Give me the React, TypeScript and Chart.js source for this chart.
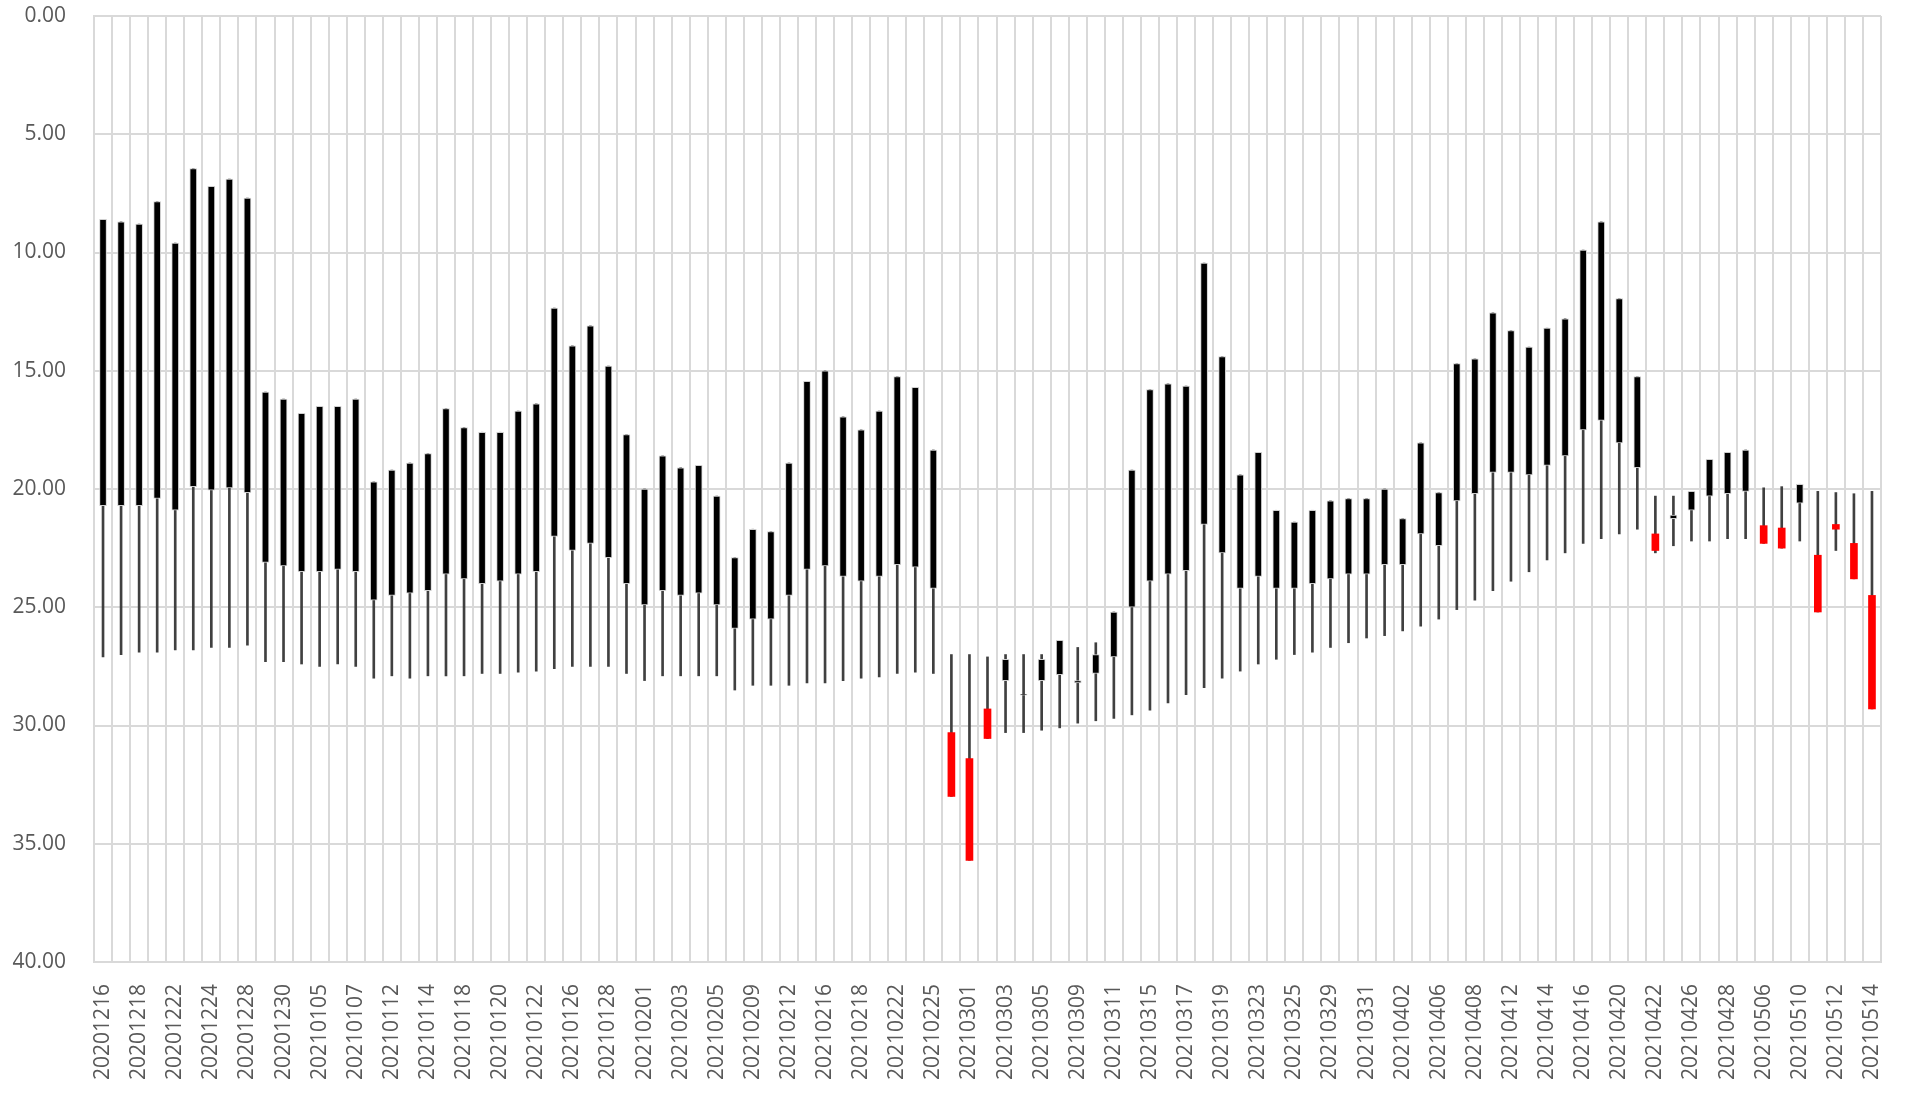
import React, { useEffect, useRef } from "react";
import { Chart, registerables } from "chart.js";
Chart.register(...registerables);

const dates = [
  "20201216","20201217","20201218","20201221","20201222","20201223","20201224","20201225","20201228","20201229",
  "20201230","20201231","20210105","20210106","20210107","20210108","20210112","20210113","20210114","20210115",
  "20210118","20210119","20210120","20210121","20210122","20210125","20210126","20210127","20210128","20210129",
  "20210201","20210202","20210203","20210204","20210205","20210208","20210209","20210210","20210212","20210215",
  "20210216","20210217","20210218","20210219","20210222","20210223","20210225","20210226","20210301","20210302",
  "20210303","20210304","20210305","20210308","20210309","20210310","20210311","20210312","20210315","20210316",
  "20210317","20210318","20210319","20210322","20210323","20210324","20210325","20210326","20210329","20210330",
  "20210331","20210401","20210402","20210405","20210406","20210407","20210408","20210409","20210412","20210413",
  "20210414","20210415","20210416","20210419","20210420","20210421","20210422","20210423","20210426","20210427",
  "20210428","20210429","20210506","20210507","20210510","20210511","20210512","20210513","20210514"
];

const openV = [
  20.7, 20.7, 20.7, 20.4, 20.9, 19.9, 20.05, 19.95, 20.15, 23.1,
  23.25, 23.5, 23.5, 23.4, 23.5, 24.7, 24.5, 24.4, 24.3, 23.6,
  23.8, 24.0, 23.9, 23.6, 23.5, 22.0, 22.6, 22.3, 22.9, 24.0,
  24.9, 24.3, 24.5, 24.4, 24.9, 25.9, 25.5, 25.5, 24.5, 23.4,
  23.25, 23.7, 23.9, 23.7, 23.2, 23.3, 24.2, 30.3, 31.4, 29.3,
  28.1, 28.72, 28.1, 27.85, 28.2, 27.8, 27.1, 25.0, 23.9, 23.6,
  23.45, 21.5, 22.7, 24.2, 23.7, 24.2, 24.2, 24.0, 23.8, 23.6,
  23.6, 23.2, 23.2, 21.9, 22.4, 20.5, 20.2, 19.3, 19.3, 19.4,
  19.0, 18.6, 17.5, 17.1, 18.05, 19.1, 21.9, 21.25, 20.9, 20.3,
  20.2, 20.1, 21.55, 21.65, 20.6, 22.8, 21.5, 22.3, 24.5
];

const closeV = [
  8.6, 8.7, 8.8, 7.85, 9.6, 6.45, 7.2, 6.9, 7.7, 15.9,
  16.2, 16.8, 16.5, 16.5, 16.2, 19.7, 19.2, 18.9, 18.5, 16.6,
  17.4, 17.6, 17.6, 16.7, 16.4, 12.35, 13.95, 13.1, 14.8, 17.7,
  20.0, 18.6, 19.1, 19.0, 20.3, 22.9, 21.7, 21.8, 18.9, 15.45,
  15.0, 16.95, 17.5, 16.7, 15.25, 15.7, 18.35, 33.0, 35.7, 30.55,
  27.2, 28.68, 27.2, 26.4, 28.1, 27.0, 25.2, 19.2, 15.8, 15.55,
  15.65, 10.45, 14.4, 19.4, 18.45, 20.9, 21.4, 20.9, 20.5, 20.4,
  20.4, 20.0, 21.25, 18.05, 20.15, 14.7, 14.5, 12.55, 13.3, 14.0,
  13.2, 12.8, 9.9, 8.7, 11.95, 15.25, 22.6, 21.1, 20.1, 18.75,
  18.45, 18.35, 22.3, 22.5, 19.8, 25.2, 21.7, 23.8, 29.3
];

const lowV = [
  8.6, 8.7, 8.8, 7.85, 9.6, 6.45, 7.2, 6.9, 7.7, 15.9,
  16.2, 16.8, 16.5, 16.5, 16.2, 19.7, 19.2, 18.9, 18.5, 16.6,
  17.4, 17.6, 17.6, 16.7, 16.4, 12.35, 13.95, 13.1, 14.8, 17.7,
  20.0, 18.6, 19.1, 19.0, 20.3, 22.9, 21.7, 21.8, 18.9, 15.45,
  15.0, 16.95, 17.5, 16.7, 15.25, 15.7, 18.35, 27.0, 27.0, 27.1,
  27.0, 27.0, 27.0, 26.4, 26.7, 26.5, 25.2, 19.2, 15.8, 15.55,
  15.65, 10.45, 14.4, 19.4, 18.45, 20.9, 21.4, 20.9, 20.5, 20.4,
  20.4, 20.0, 21.25, 18.05, 20.15, 14.7, 14.5, 12.55, 13.3, 14.0,
  13.2, 12.8, 9.9, 8.7, 11.95, 15.25, 20.3, 20.3, 20.1, 18.75,
  18.45, 18.35, 19.95, 19.9, 19.8, 20.1, 20.15, 20.2, 20.1
];

const highV = [
  27.1, 27.0, 26.9, 26.9, 26.8, 26.8, 26.7, 26.7, 26.6, 27.3,
  27.3, 27.4, 27.5, 27.4, 27.5, 28.0, 27.9, 28.0, 27.9, 27.9,
  27.9, 27.8, 27.8, 27.75, 27.7, 27.6, 27.5, 27.5, 27.5, 27.8,
  28.1, 27.9, 27.9, 27.9, 27.9, 28.5, 28.3, 28.3, 28.3, 28.2,
  28.2, 28.1, 28.0, 27.95, 27.8, 27.75, 27.8, 33.0, 35.7, 30.55,
  30.3, 30.3, 30.2, 30.1, 29.9, 29.8, 29.7, 29.55, 29.35, 29.05,
  28.7, 28.4, 28.0, 27.7, 27.4, 27.2, 27.0, 26.9, 26.7, 26.5,
  26.3, 26.2, 26.0, 25.8, 25.5, 25.1, 24.7, 24.3, 23.9, 23.5,
  23.0, 22.7, 22.3, 22.1, 21.9, 21.7, 22.7, 22.4, 22.2, 22.2,
  22.1, 22.1, 22.3, 22.5, 22.2, 25.2, 22.6, 23.8, 29.3
];

const yTicks = [0, 5, 10, 15, 20, 25, 30, 35, 40];

export default function App() {
  const ref = useRef<HTMLCanvasElement>(null);
  useEffect(() => {
    document.body.style.margin = "0";
    const isRed = closeV.map((c, i) => c > openV[i]);
    const gridColor = "#d9d9d9";
    const font = { family: "'Open Sans'", size: 21 };
    const chart = new Chart(ref.current!, {
      type: "bar",
      data: {
        labels: dates,
        datasets: [
          {
            label: "bodyBlack",
            data: dates.map((_, i) => (isRed[i] ? null : [openV[i], closeV[i]])) as any,
            backgroundColor: "#000000",
            borderColor: "#cfcfcf",
            borderWidth: 1,
            borderSkipped: false,
            barThickness: 7,
            grouped: false,
            order: 1,
          },
          {
            label: "bodyRed",
            data: dates.map((_, i) => (isRed[i] ? [openV[i], closeV[i]] : null)) as any,
            backgroundColor: "#ff0000",
            borderWidth: 0,
            barThickness: 7,
            grouped: false,
            order: 1,
          },
          {
            label: "wick",
            data: dates.map((_, i) => [lowV[i], highV[i]]) as any,
            backgroundColor: "#404040",
            borderWidth: 0,
            barThickness: 2,
            grouped: false,
            order: 2,
          },
        ],
      },
      options: {
        responsive: false,
        animation: false,
        devicePixelRatio: 1,
        layout: { padding: { top: 16, right: 35, left: 0, bottom: 0 } },
        plugins: { legend: { display: false }, tooltip: { enabled: false } },
        scales: {
          x: {
            type: "category",
            offset: true,
            grid: {
              offset: true,
              color: gridColor,
              lineWidth: 2,
              drawTicks: true,
              tickLength: 22,
              tickColor: "rgba(0,0,0,0)",
            },
            border: { color: gridColor, width: 2 },
            ticks: {
              autoSkip: false,
              maxRotation: 90,
              minRotation: 90,
              padding: 0,
              color: "#595959",
              font,
              callback: (_v: any, i: number) => (i % 2 === 0 ? dates[i] : ""),
            },
            afterFit: (s: any) => {
              s.height = 138;
            },
          },
          y: {
            reverse: true,
            min: 0,
            max: 40,
            afterBuildTicks: (s: any) => {
              s.ticks = yTicks.map((v) => ({ value: v }));
            },
            grid: {
              color: gridColor,
              lineWidth: 2,
              drawTicks: true,
              tickLength: 28,
              tickColor: "rgba(0,0,0,0)",
            },
            border: { color: gridColor, width: 2 },
            ticks: {
              padding: 0,
              color: "#595959",
              font,
              callback: (v: any) => Number(v).toFixed(2),
            },
            afterFit: (s: any) => {
              s.width = 94;
            },
          },
        },
      },
    });
    return () => chart.destroy();
  }, []);
  return (
    <div style={{ position: "absolute", left: 0, top: 0, width: 1916, height: 1100 }}>
      <canvas ref={ref} width={1916} height={1100} />
    </div>
  );
}
